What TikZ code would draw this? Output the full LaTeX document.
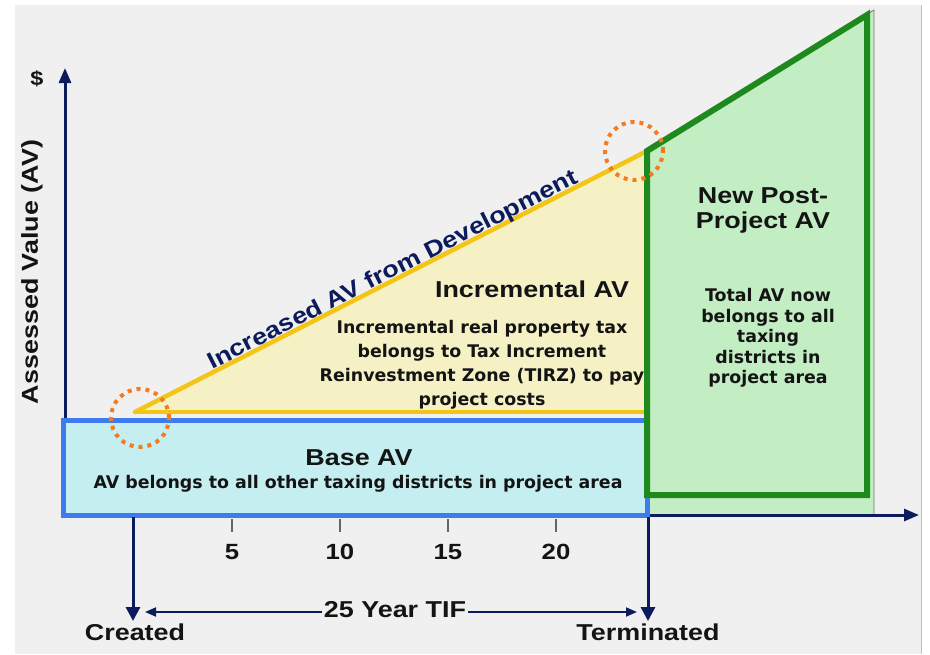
\documentclass[tikz,border=0pt]{standalone}
\usepackage{fontspec}
\usepackage{xcolor}
\setmainfont{Liberation Sans}
\newfontfamily\headfont[FakeStretch=1.17]{Liberation Sans}
\newfontfamily\bodyfont{DejaVu Sans}
\usepackage{tikz}
\usetikzlibrary{positioning,arrows.meta}

\definecolor{panelgray}{HTML}{F0F0F0}
\definecolor{axisblue}{HTML}{0B1B5C}
\definecolor{basefill}{HTML}{C4EEF0}
\definecolor{baseedge}{HTML}{3C7CEE}
\definecolor{incfill}{HTML}{F5F1C5}
\definecolor{incedge}{HTML}{F3C516}
\definecolor{postfill}{HTML}{C3EDC3}
\definecolor{postedge}{HTML}{1E8A1E}
\definecolor{ringorange}{HTML}{F47B20}
\definecolor{inktext}{HTML}{141414}

\begin{document}
\begin{tikzpicture}[
        x = 1pt,
        y = -1pt,
        axis/.style = {draw=axisblue, line width=3pt, -{Triangle[length=15pt, width=12pt]}},
        drop/.style = {draw=axisblue, line width=3pt, -{Triangle[length=14pt, width=14pt]}},
        span/.style = {draw=axisblue, line width=1.8pt, -{Triangle[length=11pt, width=9pt]}}
    ]
    \tikzstyle{head} = [font=\headfont\bfseries\fontsize{23}{25}\selectfont, text=inktext, align=center, inner sep=2pt];
    \tikzstyle{body} = [font=\bodyfont\bfseries\fontsize{17.4}{24}\selectfont, text=inktext, align=center, inner sep=2pt];
    \tikzstyle{num} = [font=\headfont\bfseries\fontsize{22}{24}\selectfont, text=inktext, inner sep=2pt];
    \tikzstyle{ring} = [draw=ringorange, line width=4pt, dash pattern=on 4pt off 5pt];
    \tikzstyle{tickmark} = [draw=black!60, line width=1.3pt];

    \useasboundingbox (0,0) rectangle (930,654);
    \fill[white] (0,0) rectangle (930,654);
    \fill[panelgray] (15,5) rectangle (921,654);
    \draw[black!25, line width=0.8pt] (921,5) -- (921,654);

    % corners of the chart
    \coordinate (origin) at (63,515);
    \coordinate (start) at (135,412);
    \coordinate (peak) at (647,151);
    \coordinate (floor) at (647,412);
    \coordinate (top) at (867,15);

    % post-project area (behind the axes)
    \fill[postfill] (647,148) -- (874,10) -- (874,515) -- (647,515) -- cycle;
    \draw[black!55, line width=0.8pt] (647,148) -- (874,10) -- (874,515);

    % axes
    \draw[axis] (65,517) -- (65,68);
    \draw[axis] (origin) -- (919,515);
    \node[num, font=\headfont\bfseries\fontsize{20}{21}\selectfont] (dollar) at (37,79) {\$};
    \node[head, rotate=90] (ylabel) at (32,272) {Assessed Value (AV)};

    % base AV
    \draw[baseedge, line width=5pt, fill=basefill] (origin) rectangle (647,420);

    % incremental AV
    \fill[incfill] (start) -- (peak) -- (floor) -- cycle;
    \draw[incedge, line width=4.5pt] (start) -- (floor);
    \draw[incedge, line width=4.5pt, line cap=round] (start) -- (peak);

    % new post-project AV
    \draw[postedge, line width=6pt, line join=miter] (peak) -- (top) -- (867,495) -- (647,495) -- cycle;

    % circled points
    \draw[ring] (140,418) circle [radius=29pt];
    \draw[ring] (634,151) circle [radius=29pt];

    % labels
    \node[head, text=axisblue, rotate=27, anchor=base] (rise) at (396,276) {Increased AV from Development};
    \node[head, anchor=base] (inctitle) at (532,297) {Incremental AV};
    \node[body] (inctext) at (482,365) {Incremental real property tax\\belongs to Tax Increment\\Reinvestment Zone (TIRZ) to pay\\project costs};
    \node[head, anchor=base] (basetitle) at (359,465) {Base AV};
    \node[body, anchor=base] (basetext) at (358,488) {AV belongs to all other taxing districts in project area};
    \node[head] (posttitle) at (763,210) {New Post-\\Project AV};
    \node[body, font=\bodyfont\bfseries\fontsize{17.4}{20.5}\selectfont] (posttext) at (768,338) {Total AV now\\belongs to all\\taxing\\districts in\\project area};

    % years
    \draw[tickmark] (232,519) -- (232,532);
    \draw[tickmark] (340,519) -- (340,532);
    \draw[tickmark] (448,519) -- (448,532);
    \draw[tickmark] (556,519) -- (556,532);
    \node[num] (yr5) at (232,552) {5};
    \node[num] (yr10) at (340,552) {10};
    \node[num] (yr15) at (448,552) {15};
    \node[num] (yr20) at (556,552) {20};

    % created / terminated
    \coordinate (cstart) at (133,517);
    \coordinate (tstart) at (648,517);
    \node[head, anchor=north] (created) at (135,622) {Created};
    \node[head, anchor=north] (terminated) at (648,622) {Terminated};
    \draw[drop] (cstart) -- (133,621);
    \draw[drop] (tstart) -- (648,621);
    \node[head] (tif) at (395,610) {25 Year TIF};
    \coordinate (tifleft) at (145,612);
    \coordinate (tifright) at (637,612);
    \draw[span] (tif.west |- tifleft) -- (tifleft);
    \draw[span] (tif.east |- tifright) -- (tifright);
\end{tikzpicture}
\end{document}
